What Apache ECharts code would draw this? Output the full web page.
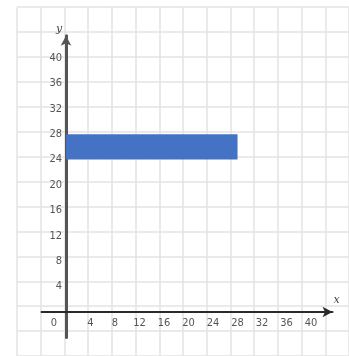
<!DOCTYPE html>
<html><head><meta charset="utf-8">
<script src="https://cdn.jsdelivr.net/npm/echarts@6/dist/echarts.min.js"></script>
<style>html,body{margin:0;padding:0;background:#fff}#c{width:349px;height:356px}</style>
</head><body><div id="c"></div>
<script>
// data
const barXStart = [0];
const barXEnd = [28];
const barYBottom = [24];
const barYTop = [28];
const xTickLabels = [0, 4, 8, 12, 16, 20, 24, 28, 32, 36, 40];
const yTickLabels = [4, 8, 12, 16, 20, 24, 28, 32, 36, 40];

const chart = echarts.init(document.getElementById('c'), null, {renderer: 'canvas'});
const font = 'Liberation Sans Narrow, DejaVu Sans Condensed, sans-serif';
const lblColor = '#555';
const gridColor = '#e3e3e3';

const barData = barXStart.map((v, i) => [v, barXEnd[i], barYBottom[i], barYTop[i]]);

chart.setOption({
  animation: false,
  grid: [
    {left: 17, top: 7.2, width: 343, height: 355.6, containLabel: false},
    {left: 41.5, top: 35.8, width: 291, height: 301.6, containLabel: false}
  ],
  xAxis: [
    {type: 'value', gridIndex: 0, min: -8, max: 48, interval: 4,
     axisLine: {show: false}, axisTick: {show: false}, axisLabel: {show: false},
     splitLine: {show: true, lineStyle: {color: gridColor, width: 1.5}}},
    {type: 'value', gridIndex: 1, min: -4, max: 43.5, interval: 4,
     position: 'bottom', offset: -25.4,
     axisLine: {show: true, onZero: false, symbol: ['none', 'arrow'], symbolSize: [8, 10],
       lineStyle: {color: '#2a2a2a', width: 2}},
     axisTick: {show: false}, splitLine: {show: false},
     name: 'x', nameLocation: 'end', nameGap: 1,
     nameTextStyle: {fontStyle: 'italic', fontSize: 11, color: '#444', fontFamily: 'DejaVu Serif, serif', verticalAlign: 'bottom', padding: [0, 0, 6, 0]},
     axisLabel: {show: true, margin: 6, fontSize: 11, color: lblColor, fontFamily: font,
       showMaxLabel: false, showMinLabel: false,
       formatter: v => {
         if (!xTickLabels.includes(v)) return '';
         if (v === 0) return '{z|0}';
         return String(v);
       },
       rich: {z: {fontSize: 11, color: lblColor, fontFamily: font, padding: [0, 24, 0, 0]}}}}
  ],
  yAxis: [
    {type: 'value', gridIndex: 0, min: -8, max: 48, interval: 4,
     axisLine: {show: false}, axisTick: {show: false}, axisLabel: {show: false},
     splitLine: {show: true, lineStyle: {color: gridColor, width: 1.5}}},
    {type: 'value', gridIndex: 1, min: -4, max: 43.5, interval: 4,
     position: 'left', offset: -24.5,
     axisLine: {show: true, onZero: false, symbol: ['none', 'arrow'], symbolSize: [8, 10],
       lineStyle: {color: '#555', width: 3}},
     axisTick: {show: false}, splitLine: {show: false},
     name: 'y', nameLocation: 'end', nameGap: 1,
     nameTextStyle: {fontStyle: 'italic', fontSize: 11, color: '#444', fontFamily: 'DejaVu Serif, serif', padding: [0, 14, 0, 0]},
     axisLabel: {show: true, margin: 4, fontSize: 11, color: lblColor, fontFamily: font,
       showMaxLabel: false, showMinLabel: false,
       formatter: v => yTickLabels.includes(v) ? String(v) : ''}}
  ],
  series: [{
    type: 'custom', xAxisIndex: 1, yAxisIndex: 1, z: 1,
    data: barData,
    renderItem: (params, api) => {
      const p0 = api.coord([api.value(0), api.value(3)]);
      const p1 = api.coord([api.value(1), api.value(2)]);
      return {type: 'rect', shape: {x: p0[0], y: p0[1], width: p1[0] - p0[0], height: p1[1] - p0[1]},
        style: {fill: '#4472C4'}};
    }
  }]
});
</script></body></html>
